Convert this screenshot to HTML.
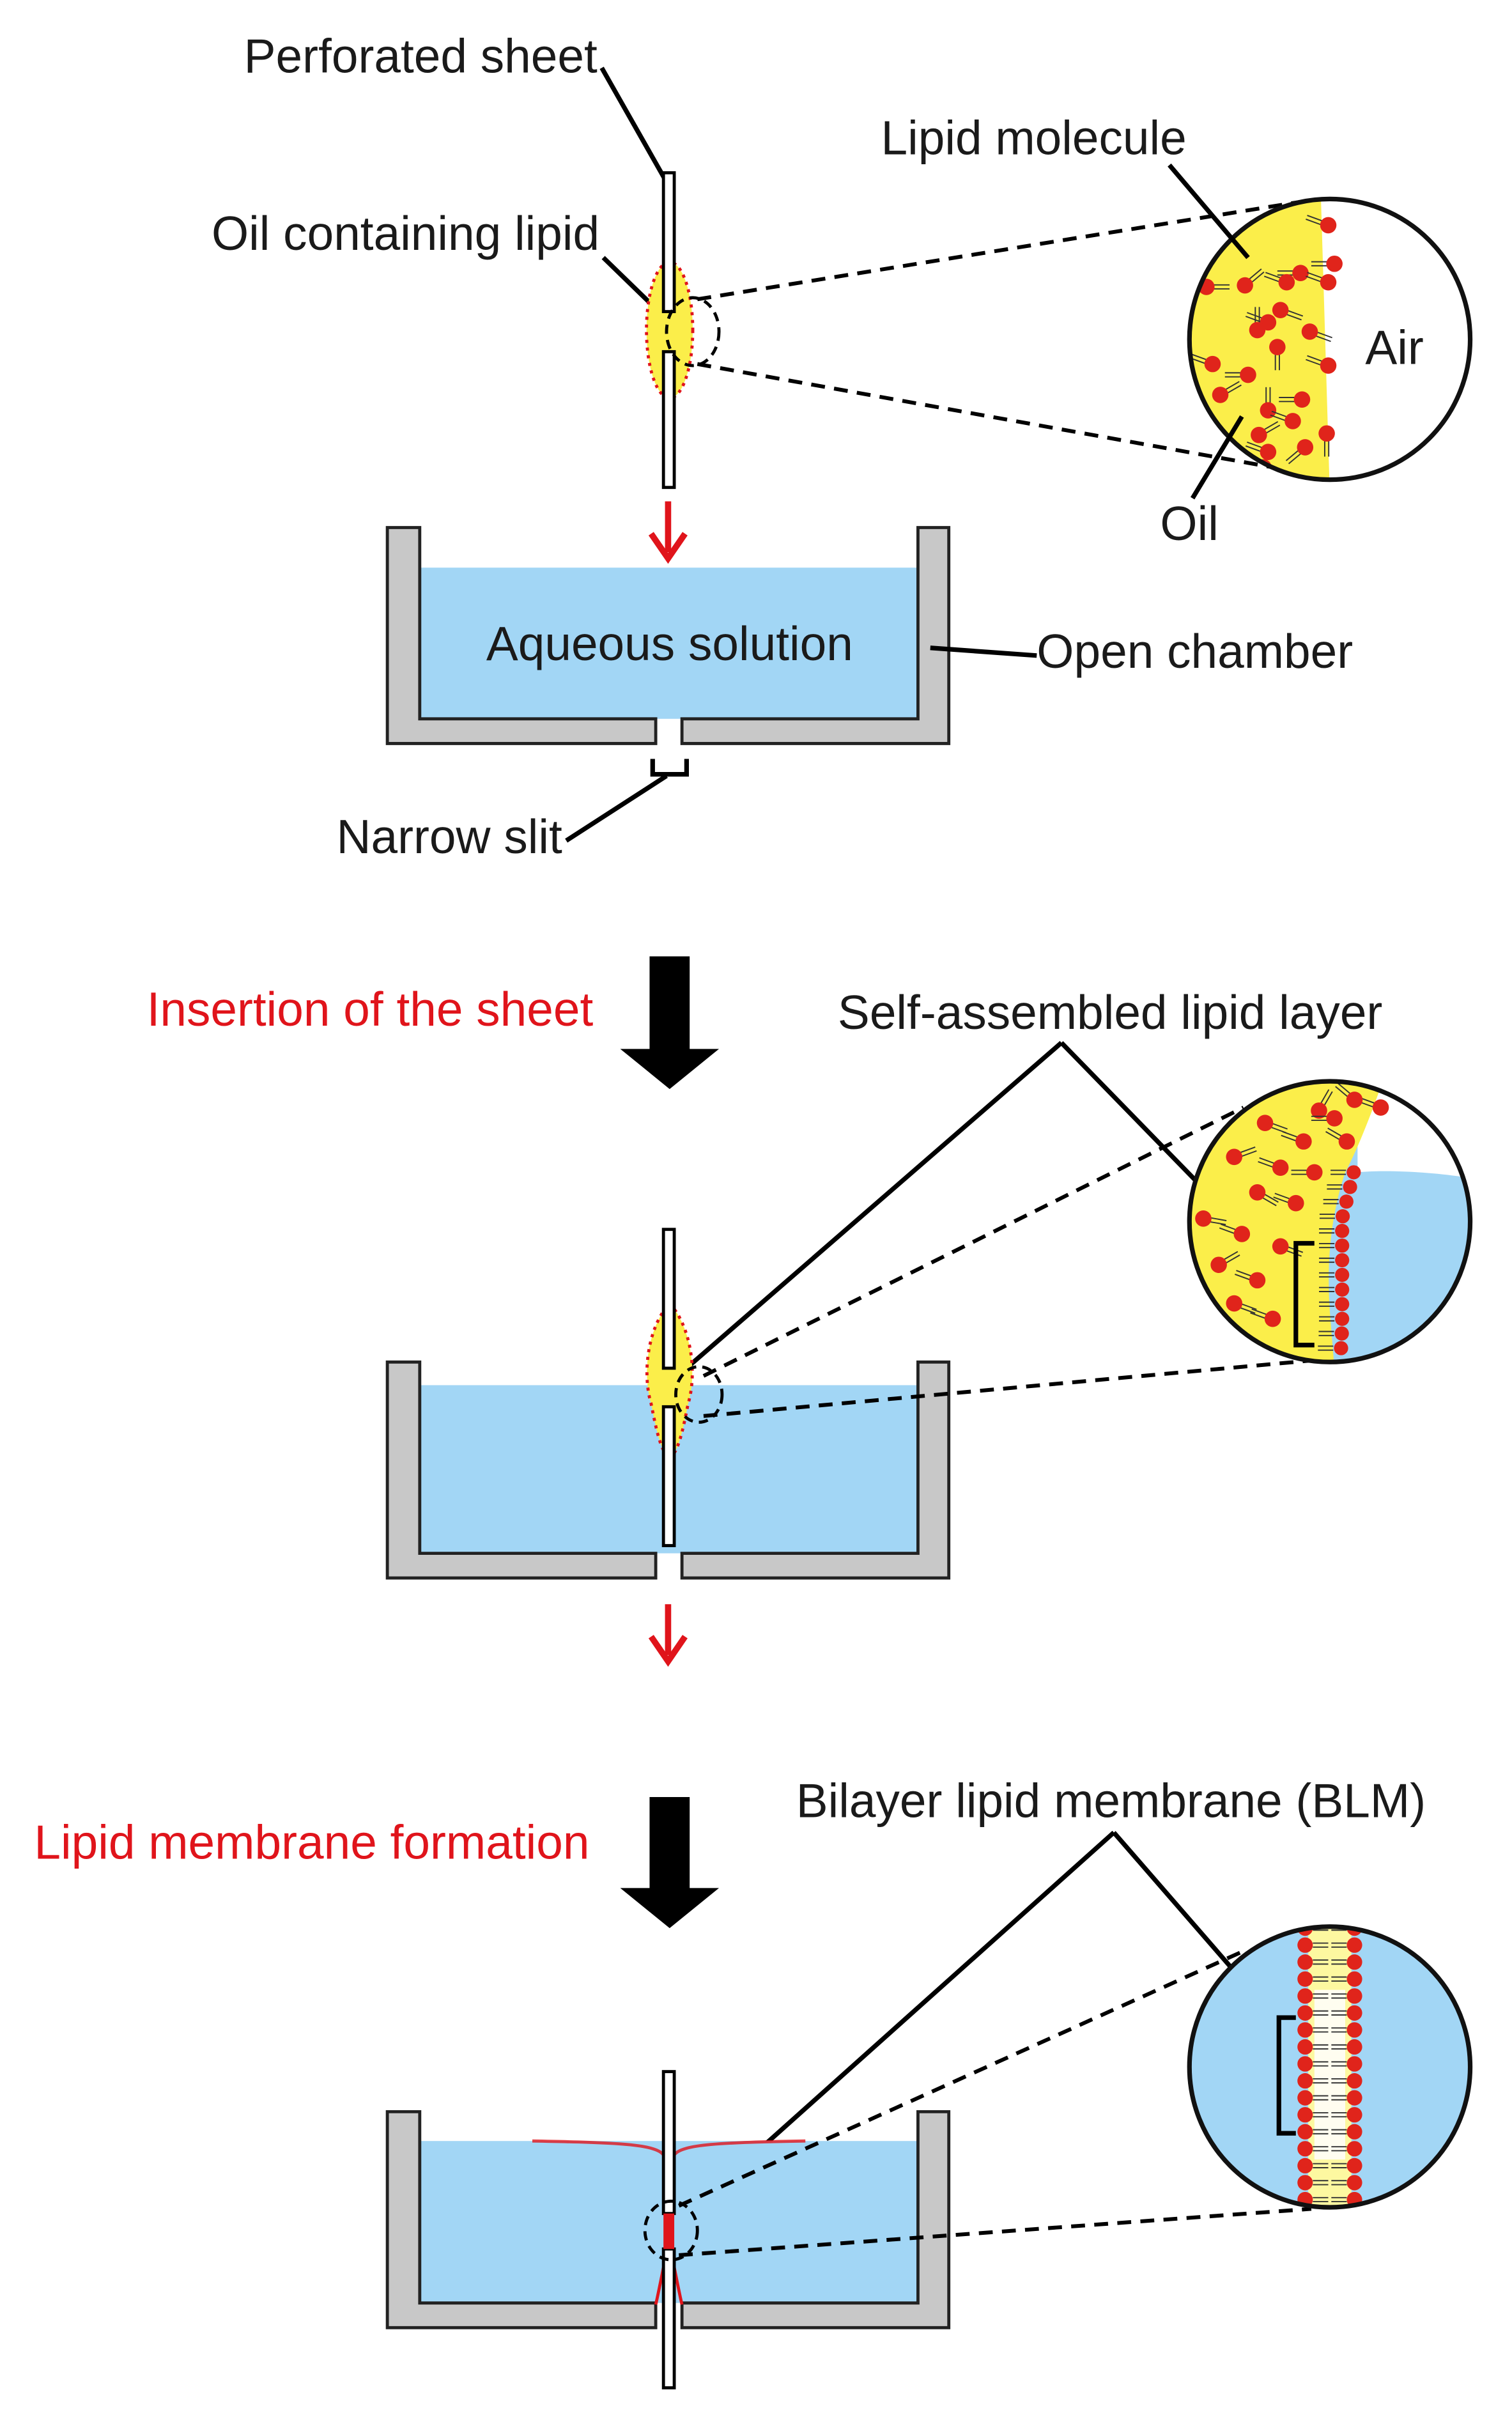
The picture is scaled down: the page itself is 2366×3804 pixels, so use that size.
<!DOCTYPE html>
<html><head><meta charset="utf-8"><style>
html,body{margin:0;padding:0;background:#fff;}
svg{display:block;}
text{font-family:"Liberation Sans",Arial,sans-serif;font-size:31px;fill:#1a1a1a;}
.red{fill:#e0141b;}
</style></head><body>
<svg id="s" width="2366" height="3804" viewBox="0 0 980 1576" xmlns="http://www.w3.org/2000/svg">
<defs>
<clipPath id="c1"><circle cx="862" cy="220" r="91"/></clipPath>
<clipPath id="c2"><circle cx="862" cy="792" r="91"/></clipPath>
<clipPath id="c3"><circle cx="862" cy="1340" r="91"/></clipPath>
</defs>
<rect width="980" height="1576" fill="#fff"/>

<!-- ===== Panel 1 ===== -->
<text x="158" y="47">Perforated sheet</text>
<line x1="390" y1="44" x2="432" y2="118" stroke="#000" stroke-width="3"/>
<text x="137" y="162">Oil containing lipid</text>
<line x1="391" y1="167" x2="425" y2="200" stroke="#000" stroke-width="3"/>
<ellipse cx="434" cy="214" rx="15" ry="44" fill="#fbee4a" stroke="#e0141b" stroke-width="2" stroke-dasharray="2 3"/>
<rect x="430" y="112" width="7" height="90" fill="#fff" stroke="#000" stroke-width="2"/>
<rect x="430" y="228" width="7" height="88" fill="#fff" stroke="#000" stroke-width="2"/>
<ellipse cx="449" cy="215" rx="17" ry="22" fill="none" stroke="#000" stroke-width="2" stroke-dasharray="6 4"/>
<line x1="452" y1="194" x2="842" y2="131" stroke="#000" stroke-width="2.5" stroke-dasharray="9 6"/>
<line x1="452" y1="236" x2="842" y2="306" stroke="#000" stroke-width="2.5" stroke-dasharray="9 6"/>
<g clip-path="url(#c1)">
<circle cx="862" cy="220" r="91" fill="#fff"/>
<polygon points="760,120 856,120 862,320 760,320" fill="#fbee4a"/>
<g id="m1"></g>
</g>
<circle cx="862" cy="220" r="91" fill="none" stroke="#111" stroke-width="3"/>
<text x="885" y="236">Air</text>
<text x="571" y="100">Lipid molecule</text>
<line x1="758" y1="107" x2="809" y2="167" stroke="#000" stroke-width="3"/>
<text x="752" y="350">Oil</text>
<line x1="773" y1="323" x2="805" y2="270" stroke="#000" stroke-width="3"/>

<line x1="433" y1="325" x2="433" y2="358" stroke="#e0141b" stroke-width="4"/>
<polyline points="422,346 433,362 444,346" fill="none" stroke="#e0141b" stroke-width="4"/>

<g id="ch1"></g>
<text x="434" y="428" text-anchor="middle">Aqueous solution</text>
<line x1="603" y1="420" x2="672" y2="425" stroke="#000" stroke-width="3"/>
<text x="672" y="433">Open chamber</text>
<polyline points="423,492 423,502 445,502 445,492" fill="none" stroke="#000" stroke-width="3"/>
<text x="218" y="553">Narrow slit</text>
<line x1="367" y1="545" x2="432" y2="503" stroke="#000" stroke-width="3"/>

<!-- ===== Arrow 1 ===== -->
<text x="95" y="665" class="red">Insertion of the sheet</text>
<polygon points="421,620 447,620 447,680 466,680 434,706 402,680 421,680" fill="#000"/>
<text x="543" y="667">Self-assembled lipid layer</text>
<line x1="688" y1="676" x2="438" y2="893" stroke="#000" stroke-width="3"/>
<line x1="688" y1="676" x2="840" y2="832" stroke="#000" stroke-width="3"/>

<!-- ===== Panel 2 ===== -->
<g id="ch2"></g>
<path d="M434,845 C448,860 452,890 446,910 C443,925 441,935 437,942 L431,942 C427,935 425,925 422,910 C416,890 420,860 434,845 Z" fill="#fbee4a" stroke="#e0141b" stroke-width="2" stroke-dasharray="2 3"/>
<rect x="430" y="797" width="7" height="90" fill="#fff" stroke="#000" stroke-width="2"/>
<rect x="430" y="912" width="7" height="90" fill="#fff" stroke="#000" stroke-width="2"/>
<ellipse cx="453" cy="904" rx="15" ry="18" fill="none" stroke="#000" stroke-width="2" stroke-dasharray="6 4"/>
<line x1="456" y1="892" x2="806" y2="718" stroke="#000" stroke-width="2.5" stroke-dasharray="9 6"/>
<line x1="456" y1="918" x2="850" y2="882" stroke="#000" stroke-width="2.5" stroke-dasharray="9 6"/>
<g clip-path="url(#c2)">
<rect x="760" y="690" width="210" height="210" fill="#a2d6f5"/>
<path d="M880,700 L960,700 L960,765 C935,760 900,758 880,760 Z" fill="#fff"/>
<path d="M760,690 L900,690 C890,720 880,745 872,760 C862,790 860,820 862,850 L866,900 L760,900 Z" fill="#fbee4a"/>
<g id="m2"></g>
</g>
<circle cx="862" cy="792" r="91" fill="none" stroke="#111" stroke-width="3"/>
<polyline points="852,806 840,806 840,872 852,872" fill="none" stroke="#000" stroke-width="3"/>

<line x1="433" y1="1040" x2="433" y2="1073" stroke="#e0141b" stroke-width="4"/>
<polyline points="422,1061 433,1077 444,1061" fill="none" stroke="#e0141b" stroke-width="4"/>

<!-- ===== Arrow 2 ===== -->
<text x="22" y="1205" class="red">Lipid membrane formation</text>
<polygon points="421,1165 447,1165 447,1224 466,1224 434,1250 402,1224 421,1224" fill="#000"/>
<text x="516" y="1178">Bilayer lipid membrane (BLM)</text>
<line x1="722" y1="1188" x2="438" y2="1442" stroke="#000" stroke-width="3"/>
<line x1="722" y1="1188" x2="828" y2="1310" stroke="#000" stroke-width="3"/>

<!-- ===== Panel 3 ===== -->
<g id="ch3"></g>
<path d="M345,1388 C400,1389 425,1390 430,1397" fill="none" stroke="#e0141b" stroke-width="2" opacity="0.8"/>
<path d="M522,1388 C467,1389 442,1390 437,1397" fill="none" stroke="#e0141b" stroke-width="2" opacity="0.8"/>
<path d="M430,1470 C428,1480 426,1490 425,1494" fill="none" stroke="#e0141b" stroke-width="2"/>
<path d="M437,1470 C439,1480 441,1490 442,1494" fill="none" stroke="#e0141b" stroke-width="2"/>
<rect x="430" y="1343" width="7" height="92" fill="#fff" stroke="#000" stroke-width="2"/>
<rect x="430" y="1458" width="7" height="90" fill="#fff" stroke="#000" stroke-width="2"/>
<rect x="430" y="1435" width="7" height="23" fill="#e0141b"/>
<ellipse cx="435" cy="1446" rx="17" ry="19" fill="none" stroke="#000" stroke-width="2" stroke-dasharray="6 4"/>
<line x1="440" y1="1430" x2="808" y2="1264" stroke="#000" stroke-width="2.5" stroke-dasharray="9 6"/>
<line x1="440" y1="1462" x2="850" y2="1432" stroke="#000" stroke-width="2.5" stroke-dasharray="9 6"/>
<g clip-path="url(#c3)">
<rect x="760" y="1240" width="210" height="210" fill="#a2d6f5"/>
<rect x="848" y="1240" width="28" height="200" fill="#fdf8a0"/>
<rect x="852" y="1290" width="20" height="110" fill="#fffdf0"/>
<g id="m3"></g>
</g>
<circle cx="862" cy="1340" r="91" fill="none" stroke="#111" stroke-width="3"/>
<polyline points="840,1308 829,1308 829,1383 840,1383" fill="none" stroke="#000" stroke-width="3"/>
</svg>
<script>
var NS="http://www.w3.org/2000/svg";
function el(p,t,a){var e=document.createElementNS(NS,t);for(var k in a)e.setAttribute(k,a[k]);p.appendChild(e);return e;}
function chamber(id,top,water){
 var g=document.getElementById(id);
 el(g,"rect",{x:272,y:water,width:323,height:(top+124)-water,fill:"#a2d6f5"});
 var b=top+124,d=top+140;
 el(g,"path",{d:"M251,"+top+" L272,"+top+" L272,"+b+" L425,"+b+" L425,"+d+" L251,"+d+" Z",fill:"#c8c8c8",stroke:"#222","stroke-width":2});
 el(g,"path",{d:"M615,"+top+" L595,"+top+" L595,"+b+" L442,"+b+" L442,"+d+" L615,"+d+" Z",fill:"#c8c8c8",stroke:"#222","stroke-width":2});
}
chamber("ch1",342,368);chamber("ch2",883,898);chamber("ch3",1369,1388);
function mol(g,x,y,ang,R){
 R=R||5.3;
 var r=ang*Math.PI/180,c=Math.cos(r),s=Math.sin(r),L=15,nx=-s*1.3,ny=c*1.3;
 for(var k=-1;k<=1;k+=2)el(g,"line",{x1:x+c*5+nx*k,y1:y+s*5+ny*k,x2:x+c*L+nx*k,y2:y+s*L+ny*k,stroke:"#333","stroke-width":0.8});
 el(g,"circle",{cx:x,cy:y,r:R,fill:"#e0241b"});
}
var m1=document.getElementById("m1");
var pts=[[861,133,200],[807,172,320],[843,164,180],[865,158,180],[834,170,200],[861,170,200],[782,173,0],[822,196,200],[830,188,20],[815,201,270],[849,202,20],[786,223,200],[828,212,90],[861,224,200],[809,230,180],[791,243,330],[822,253,270],[844,246,180],[816,269,330],[838,260,200],[822,280,200],[846,277,140],[860,268,90],[808,302,270],[861,304,200],[819,290,20]];
pts.forEach(function(p){mol(m1,p[0],p[1]+13,p[2]);});
var m2=document.getElementById("m2");
var p2=[[895,718,200],[878,713,220],[855,720,300],[820,728,20],[845,740,200],[873,740,210],[865,725,180],[800,750,340],[830,757,200],[852,760,180],[815,773,30],[840,780,200],[780,790,10],[805,800,200],[830,808,20],[790,820,330],[815,830,200],[800,845,20],[825,855,200]];
p2.forEach(function(p){mol(m2,p[0],p[1],p[2]);});
for(var y=760;y<=880;y+=9.5){var xx=870+(y<790?(790-y)*0.25:0)-(y>860?(y-860)*0.05:0);mol(m2,xx,y,180,4.6);}
var m3=document.getElementById("m3");
for(var y=1250;y<=1440;y+=11){mol(m3,846,y,0,5);mol(m3,878,y,180,5);}
</script>
</body></html>
